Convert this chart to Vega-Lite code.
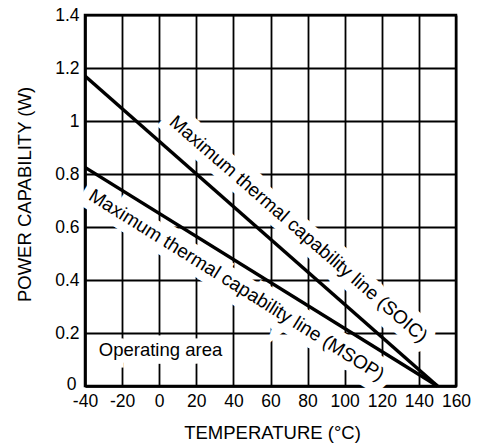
{
  "$schema": "https://vega.github.io/schema/vega-lite/v6.json",
  "autosize": "none",
  "padding": {"left": 85, "top": 15, "right": 25, "bottom": 59},
  "width": 371,
  "height": 371,
  "background": "white",
  "config": {
    "font": "Liberation Sans",
    "view": {"stroke": "black", "strokeWidth": 2.5},
    "axis": {
      "gridColor": "black", "gridWidth": 1.8, "gridOpacity": 1,
      "domainColor": "black", "domainWidth": 2.5,
      "ticks": false, "tickSize": 0,
      "labelFont": "Liberation Sans", "labelFontSize": 17.5, "labelColor": "black",
      "titleFont": "Liberation Sans", "titleFontSize": 18.5, "titleColor": "black", "titleFontWeight": "normal",
      "labelFlush": false, "labelOverlap": false
    }
  },
  "datasets": {
    "curves": [
      {"series": "SOIC", "t": -40, "p": 1.17},
      {"series": "SOIC", "t": 150, "p": 0},
      {"series": "MSOP", "t": -40, "p": 0.825},
      {"series": "MSOP", "t": 150, "p": 0}
    ],
    "soicLabel": [{"t": 75.1, "p": 0.5925, "label": "Maximum thermal capability line (SOIC)"}],
    "msopLabel": [{"t": 41.7, "p": 0.381, "label": "Maximum thermal capability line (MSOP)"}],
    "areaLabel": [{"t": 0.7, "p": 0.136, "label": "Operating area"}]
  },
  "encoding": {
    "x": {
      "field": "t", "type": "quantitative",
      "scale": {"domain": [-40, 160], "nice": false, "zero": false},
      "axis": {
        "values": [-40, -20, 0, 20, 40, 60, 80, 100, 120, 140, 160],
        "labelExpr": "toString(datum.value)",
        "labelPadding": 6,
        "title": "TEMPERATURE (°C)",
        "titleX": 187, "titleY": 46, "titleBaseline": "middle", "titleAlign": "center"
      }
    },
    "y": {
      "field": "p", "type": "quantitative",
      "scale": {"domain": [0, 1.4], "nice": false},
      "axis": {
        "values": [0, 0.2, 0.4, 0.6, 0.8, 1, 1.2, 1.4],
        "labelExpr": "toString(datum.value)",
        "labelPadding": {"condition": {"test": "datum.value == 0", "value": 9}, "value": 6},
        "labelOffset": {"condition": {"test": "datum.value == 0", "value": -2}, "value": 0},
        "title": "POWER CAPABILITY (W)",
        "titleAngle": -90, "titleX": -61, "titleY": 179, "titleBaseline": "middle", "titleAlign": "center"
      }
    }
  },
  "layer": [
    {
      "data": {"name": "soicLabel"},
      "mark": {"type": "text", "angle": 41, "fontSize": 19, "align": "center", "baseline": "middle", "fill": "white", "stroke": "white", "strokeWidth": 18, "strokeJoin": "miter"},
      "encoding": {"text": {"field": "label"}}
    },
    {
      "data": {"name": "msopLabel"},
      "mark": {"type": "text", "angle": 32, "fontSize": 19, "align": "center", "baseline": "middle", "fill": "white", "stroke": "white", "strokeWidth": 18, "strokeJoin": "miter"},
      "encoding": {"text": {"field": "label"}}
    },
    {
      "data": {"name": "areaLabel"},
      "mark": {"type": "text", "fontSize": 18.5, "align": "center", "baseline": "middle", "fill": "white", "stroke": "white", "strokeWidth": 15},
      "encoding": {"text": {"field": "label"}}
    },
    {
      "data": {"name": "curves"},
      "mark": {"type": "line", "strokeWidth": 3.5, "color": "black"},
      "encoding": {"detail": {"field": "series"}}
    },
    {
      "data": {"name": "soicLabel"},
      "mark": {"type": "text", "angle": 41, "fontSize": 19, "align": "center", "baseline": "middle", "color": "black"},
      "encoding": {"text": {"field": "label"}}
    },
    {
      "data": {"name": "msopLabel"},
      "mark": {"type": "text", "angle": 32, "fontSize": 19, "align": "center", "baseline": "middle", "color": "black"},
      "encoding": {"text": {"field": "label"}}
    },
    {
      "data": {"name": "areaLabel"},
      "mark": {"type": "text", "fontSize": 18.5, "align": "center", "baseline": "middle", "color": "black"},
      "encoding": {"text": {"field": "label"}}
    }
  ]
}
